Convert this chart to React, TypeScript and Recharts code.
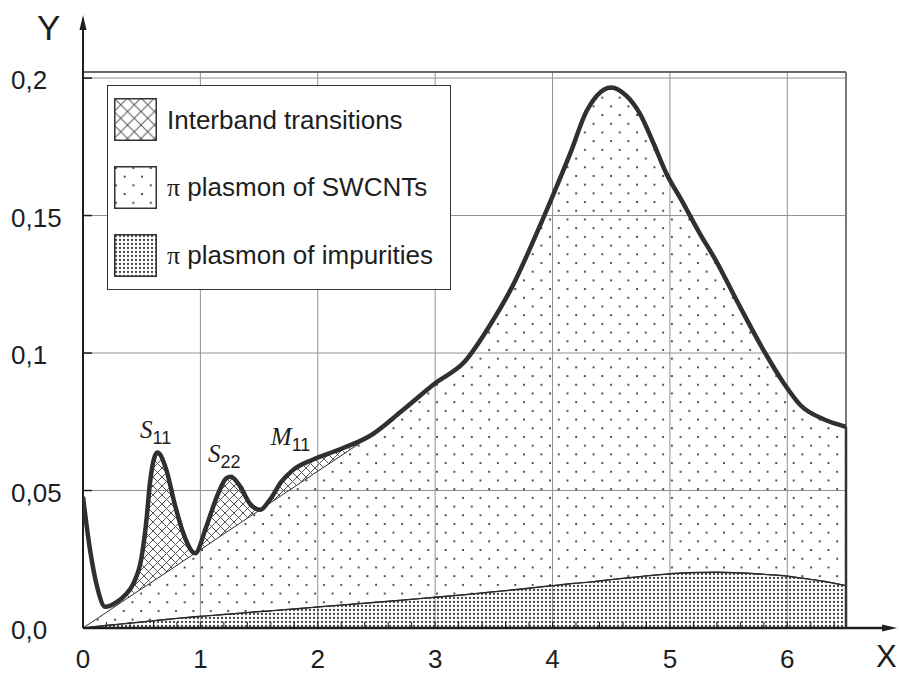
import React from "react"
import {
  ComposedChart,
  Area,
  Line,
  XAxis,
  YAxis,
  CartesianGrid,
  ReferenceLine,
  ReferenceDot,
  Legend,
  Label,
} from "recharts"

// photon energy samples (x) and the three curves
const xValues = [
  0, 0.06, 0.12, 0.19, 0.29, 0.36, 0.43, 0.5, 0.54, 0.57, 0.61, 0.635, 0.71, 0.78, 0.855, 0.955, 1.05, 1.14,
  1.22, 1.26, 1.34, 1.42, 1.51, 1.59, 1.69, 1.79, 1.96, 2.19, 2.45, 2.71, 3.0, 3.25, 3.48, 3.65, 3.91, 4.0,
  4.15, 4.29, 4.375, 4.5, 4.63, 4.745, 4.86, 4.97, 5.1, 5.25, 5.4, 5.57, 5.81, 5.97, 6.11, 6.31, 6.5,
]
const totalValues = [
  0.0477, 0.0284, 0.015, 0.0077, 0.0095, 0.012, 0.0162, 0.026, 0.039, 0.0526, 0.0623, 0.0638, 0.0575, 0.0453,
  0.0344, 0.0272, 0.0368, 0.0477, 0.0544, 0.055, 0.0514, 0.0453, 0.043, 0.0465, 0.0532, 0.0575, 0.0613, 0.065,
  0.07, 0.0787, 0.089, 0.0968, 0.111, 0.1236, 0.148, 0.157, 0.1725, 0.188, 0.1935, 0.1966, 0.1935, 0.187,
  0.1763, 0.1653, 0.1555, 0.1438, 0.133, 0.119, 0.1001, 0.089, 0.0811, 0.0759, 0.0732,
]
// straight SWCNT baseline up to x = 2.45, after that it follows the total curve
const swcntValues = [
  0, 0.0017, 0.0034, 0.0054, 0.0083, 0.0103, 0.0123, 0.0143, 0.0154, 0.0162, 0.0174, 0.0181, 0.0202, 0.0222,
  0.0244, 0.0272, 0.0299, 0.0325, 0.0348, 0.0359, 0.0382, 0.0405, 0.043, 0.0453, 0.0482, 0.051, 0.0559, 0.0624,
  0.07,
]
const impurityValues = [
  0, 0.0003, 0.0006, 0.0009, 0.0013, 0.0016, 0.0019, 0.0022, 0.0024, 0.0025, 0.0027, 0.0028, 0.0031, 0.0034,
  0.0037, 0.0041, 0.0044, 0.0047, 0.005, 0.0051, 0.0054, 0.0057, 0.006, 0.0062, 0.0066, 0.0069, 0.0075, 0.0083,
  0.0092, 0.0101, 0.0112, 0.0121, 0.0131, 0.0138, 0.015, 0.0154, 0.0161, 0.0166, 0.017, 0.0176, 0.0182, 0.0187,
  0.0192, 0.0196, 0.02, 0.0202, 0.0203, 0.0201, 0.0195, 0.019, 0.0182, 0.017, 0.0154,
]
const interbandFrom = 0.29
const interbandTo = 2.45

const xTicks = [0, 1, 2, 3, 4, 5, 6]
const xTickLabels = ["0", "1", "2", "3", "4", "5", "6"]
const yTicks = [0, 0.05, 0.1, 0.15, 0.2]
const yTickLabels = ["0,0", "0,05", "0,1", "0,15", "0,2"]
const minorXTicks = [
  0.2, 0.4, 0.6, 0.8, 1, 1.2, 1.4, 1.6, 1.8, 2, 2.2, 2.4, 2.6, 2.8, 3, 3.2, 3.4, 3.6, 3.8, 4, 4.2, 4.4, 4.6,
  4.8, 5, 5.2, 5.4, 5.6, 5.8, 6, 6.2, 6.4,
]
const xMax = 6.5
const yMax = 0.2022
const xArrowTip = 6.935
const yArrowTip = 0.2229

const legendLabels = ["Interband transitions", "π plasmon of SWCNTs", "π plasmon of impurities"]
const legendFills = ["url(#hatchLegend)", "url(#sparseDots)", "url(#denseDots)"]

const peakLabels = [
  { letter: "S", sub: "11", x: 0.486, y: 0.0692 },
  { letter: "S", sub: "22", x: 1.065, y: 0.0603 },
  { letter: "M", sub: "11", x: 1.6, y: 0.0665 },
]

const data = xValues.map((x, i) => {
  const top = swcntValues[i] ?? totalValues[i]
  return {
    x,
    total: totalValues[i],
    impurity: [0, impurityValues[i]],
    swcnt: [impurityValues[i], top],
    interband: x >= interbandFrom && x <= interbandTo ? [top, totalValues[i]] : null,
  }
})

const SANS = "'Liberation Sans', Arial, Helvetica, sans-serif"
const SERIF = "'Liberation Serif', 'Times New Roman', serif"
const INK = "#1e1e1e"

const arrow = (width: number) => (props: any) => {
  const { x1, y1, x2, y2 } = props
  const dx = x2 - x1
  const dy = y2 - y1
  const len = Math.hypot(dx, dy) || 1
  const ux = dx / len
  const uy = dy / len
  const bx = x2 - ux * 15
  const by = y2 - uy * 15
  return (
    <g>
      <line x1={x1} y1={y1} x2={bx + ux * 2} y2={by + uy * 2} stroke={INK} strokeWidth={width} />
      <polygon
        points={`${x2},${y2} ${bx - uy * 3.5},${by + ux * 3.5} ${bx + uy * 3.5},${by - ux * 3.5}`}
        fill={INK}
      />
    </g>
  )
}

const renderXTick = (props: any) => {
  const { x, y, payload } = props
  const i = xTicks.indexOf(payload.value)
  return (
    <text x={x} y={y + 40} textAnchor="middle" fontSize={26} fontFamily={SANS} fill={INK}>
      {xTickLabels[i]}
    </text>
  )
}

const renderYTick = (props: any) => {
  const { x, y, payload } = props
  const i = yTicks.indexOf(payload.value)
  return (
    <g>
      <line x1={x} y1={y} x2={x + 9} y2={y} stroke={INK} strokeWidth={1.5} />
      <text x={x - 72} y={y + 11} textAnchor="start" fontSize={26} fontFamily={SANS} fill={INK}>
        {yTickLabels[i]}
      </text>
    </g>
  )
}

const peakLabel = (p: { letter: string; sub: string }) => (props: any) => {
  const { viewBox } = props
  return (
    <text x={viewBox.x} y={viewBox.y} fill={INK}>
      <tspan fontFamily={SERIF} fontStyle="italic" fontSize={25}>
        {p.letter}
      </tspan>
      <tspan fontFamily={SANS} fontSize={18} dy={6}>
        {p.sub}
      </tspan>
    </text>
  )
}

const renderLegend = () => (
  <div
    style={{
      position: "relative",
      width: 344,
      height: 205,
      boxSizing: "border-box",
      border: "1.5px solid #333",
      background: "#fff",
      fontFamily: SANS,
      fontSize: 26,
      color: INK,
    }}
  >
    {legendLabels.map((label, i) => (
      <div
        key={label}
        style={{ position: "absolute", left: 6, top: 12 + i * 68, display: "flex", alignItems: "center" }}
      >
        <svg width={43} height={43} style={{ display: "block" }}>
          <rect x={0.75} y={0.75} width={41.5} height={41.5} fill="#fff" />
          <rect x={0.75} y={0.75} width={41.5} height={41.5} fill={legendFills[i]} stroke="#333" strokeWidth={1.5} />
        </svg>
        <span style={{ marginLeft: 10, whiteSpace: "nowrap", lineHeight: "30px" }}>
          {label.startsWith("π ") ? (
            <>
              <span style={{ fontFamily: SERIF }}>π</span>
              {label.slice(1)}
            </>
          ) : (
            label
          )}
        </span>
      </div>
    ))}
  </div>
)

export default function App() {
  return (
    <div style={{ position: "absolute", left: 0, top: 0, width: 899, height: 675, background: "#fff" }}>
      <ComposedChart width={899} height={675} data={data} margin={{ top: 72, right: 53, bottom: 0, left: 0 }}>
        <defs>
          <pattern id="hatch" width={9} height={9} patternUnits="userSpaceOnUse">
            <path d="M0,0 L9,9 M9,0 L0,9" stroke="#555" strokeWidth={1} />
          </pattern>
          <pattern id="hatchLegend" width={13.5} height={13.5} patternUnits="userSpaceOnUse">
            <path d="M0,0 L13.5,13.5 M13.5,0 L0,13.5" stroke="#555" strokeWidth={1} />
          </pattern>
          <pattern id="sparseDots" width={17.4} height={17.4} patternUnits="userSpaceOnUse">
            <circle cx={2} cy={2} r={1.1} fill="#333" />
            <circle cx={10.7} cy={10.7} r={1.1} fill="#333" />
          </pattern>
          <pattern id="denseDots" width={4} height={4} patternUnits="userSpaceOnUse">
            <circle cx={2} cy={2} r={1.15} fill="#444" />
          </pattern>
        </defs>
        <CartesianGrid stroke="#919191" strokeWidth={1} />
        <XAxis
          dataKey="x"
          type="number"
          domain={[0, xMax]}
          ticks={xTicks}
          allowDataOverflow
          height={47}
          axisLine={false}
          tickLine={false}
          tickSize={0}
          tickMargin={0}
          tick={renderXTick}
        >
          <Label
            content={(props: any) => (
              <text
                x={props.viewBox.x + props.viewBox.width + 30}
                y={props.viewBox.y + 39}
                fontSize={31}
                fontFamily={SANS}
                fill={INK}
              >
                X
              </text>
            )}
          />
        </XAxis>
        <YAxis
          type="number"
          domain={[0, yMax]}
          ticks={yTicks}
          allowDataOverflow
          width={83}
          axisLine={false}
          tickLine={false}
          tickSize={0}
          tickMargin={0}
          tick={renderYTick}
        >
          <Label
            content={(props: any) => (
              <text x={props.viewBox.x + 37} y={props.viewBox.y - 32} fontSize={35} fontFamily={SANS} fill={INK}>
                Y
              </text>
            )}
          />
        </YAxis>
        <Legend
          layout="vertical"
          align="center"
          verticalAlign="middle"
          content={renderLegend}
          wrapperStyle={{ left: 107, top: 85, width: 344 }}
        />
        <Area
          dataKey="impurity"
          type="monotone"
          fill="url(#denseDots)"
          fillOpacity={1}
          stroke="#2a2a2a"
          strokeWidth={1.4}
          isAnimationActive={false}
        />
        <Area
          dataKey="swcnt"
          type="monotone"
          fill="url(#sparseDots)"
          fillOpacity={1}
          stroke="#2a2a2a"
          strokeWidth={1}
          isAnimationActive={false}
        />
        <Area
          dataKey="interband"
          type="monotone"
          fill="url(#hatch)"
          fillOpacity={1}
          stroke="none"
          isAnimationActive={false}
        />
        <ReferenceLine y={yMax} stroke="#4a4a4a" strokeWidth={1.5} />
        <ReferenceLine x={xMax} stroke="#7a7a7a" strokeWidth={2} />
        <ReferenceLine
          segment={[
            { x: xMax, y: 0 },
            { x: xMax, y: totalValues[totalValues.length - 1] },
          ]}
          stroke="#333"
          strokeWidth={2.5}
        />
        {minorXTicks.map((t) => (
          <ReferenceLine
            key={t}
            segment={[
              { x: t, y: 0 },
              { x: t, y: 0.0022 },
            ]}
            stroke={INK}
            strokeWidth={1}
          />
        ))}
        <ReferenceLine
          segment={[
            { x: 0, y: 0 },
            { x: xArrowTip, y: 0 },
          ]}
          ifOverflow="visible"
          shape={arrow(2.5)}
        />
        <ReferenceLine
          segment={[
            { x: 0, y: 0 },
            { x: 0, y: yArrowTip },
          ]}
          ifOverflow="visible"
          shape={arrow(2)}
        />
        {peakLabels.map((p) => (
          <ReferenceDot
            key={p.letter + p.sub}
            x={p.x}
            y={p.y}
            r={0}
            fill="none"
            stroke="none"
            label={{ content: peakLabel(p) }}
          />
        ))}
        <Line
          dataKey="total"
          type="monotone"
          stroke="#303030"
          strokeWidth={4.5}
          strokeLinejoin="round"
          dot={false}
          activeDot={false}
          isAnimationActive={false}
        />
      </ComposedChart>
    </div>
  )
}
